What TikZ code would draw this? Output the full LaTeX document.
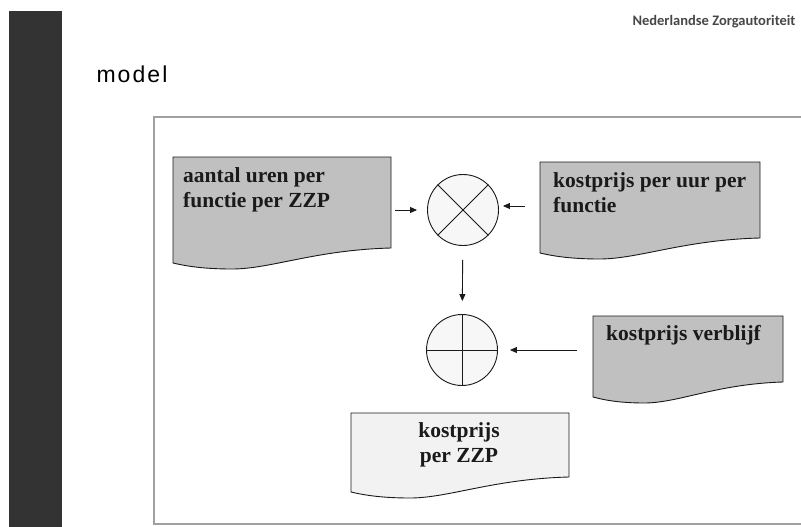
\documentclass[tikz,border=0pt]{standalone}
\usepackage{fontspec}
\setmainfont{Liberation Serif}
\newfontfamily\kopfont{Carlito}
\newfontfamily\titelfont[LetterSpace=9]{Liberation Sans}
\usetikzlibrary{arrows.meta}

\definecolor{balk}{HTML}{333333}
\definecolor{kader}{HTML}{A0A0A0}
\definecolor{docgrijs}{HTML}{C0C0C0}
\definecolor{doclicht}{HTML}{F2F2F2}
\definecolor{rondje}{HTML}{F7F7F7}
\definecolor{lijn}{HTML}{1A1A1A}

\tikzset{
  doclijn/.style={draw=lijn,line width=0.9pt},
  doctekst/.style={inner sep=0pt,font=\fontsize{21.5}{25}\selectfont\bfseries,text=lijn},
  bewerking/.style={circle,draw=lijn,line width=0.9pt,fill=rondje,minimum size=71pt,inner sep=0pt},
  pijl/.style={-{Triangle[length=7pt,width=6pt]},draw=lijn,line width=0.9pt}
}

\newcommand{\docvorm}[5]{%
  \draw[doclijn,fill=#5] (#1,#2) -- (#3,#2) -- (#3,#4)
    .. controls ({#3-0.35*(#3-#1)},{#4+2}) and ({#1+0.45*(#3-#1)},{#4+21}) .. ({#1+0.27*(#3-#1)},{#4+21})
    .. controls ({#1+0.12*(#3-#1)},{#4+21}) and ({#1+0.04*(#3-#1)},{#4+17}) .. (#1,{#4+15}) -- cycle;}

\begin{document}
\begin{tikzpicture}[x=1pt,y=-1pt]
\useasboundingbox (0,0) rectangle (801,527);
\fill[balk] (9,11) rectangle (62,527);
\draw[kader,line width=1.2pt] (806,117) -- (154,117) -- (154,524) -- (806,524);

\node[anchor=base east,font=\kopfont\fontsize{14.5}{16}\selectfont\bfseries,text=balk!90] (kop) at (799,26) {Nederlandse Zorgautoriteit};
\node[anchor=base west,font=\titelfont\fontsize{23}{26}\selectfont] (titel) at (93,82) {model};

\docvorm{173}{157}{391}{248}{docgrijs}
\docvorm{540}{162}{760}{238}{docgrijs}
\docvorm{593}{316}{783}{382}{docgrijs}
\docvorm{351}{413}{569}{477}{doclicht}

\node[doctekst,anchor=north west,align=left] (uren) at (183,167.5) {aantal uren per\\functie per ZZP};
\node[doctekst,anchor=north west,align=left] (tarief) at (553,172.5) {kostprijs per uur per\\functie};
\node[doctekst,anchor=north west,align=left] (verblijf) at (606,325.5) {kostprijs verblijf};
\node[doctekst,anchor=north,align=center] (totaal) at (459,422.5) {kostprijs\\per ZZP};

\node[bewerking] (keer) at (463,210) {};
\node[bewerking] (plus) at (462,350) {};
\draw[lijn,line width=0.9pt] (keer.north west) -- (keer.south east);
\draw[lijn,line width=0.9pt] (keer.north east) -- (keer.south west);
\draw[lijn,line width=0.9pt] (plus.north) -- (plus.south);
\draw[lijn,line width=0.9pt] (plus.west) -- (plus.east);

\coordinate (in1) at (395,210);
\coordinate (in2) at (525,206);
\coordinate (in3) at (577,350);

\path (in1) edge[pijl,shorten >=10pt] (keer.west);
\path (in2) edge[pijl,shorten >=4pt] (in2 -| keer.east);
\path (keer) edge[pijl,shorten <=14pt,shorten >=13pt] (plus);
\path (in3) edge[pijl,shorten >=12pt] (plus.east);
\end{tikzpicture}
\end{document}
